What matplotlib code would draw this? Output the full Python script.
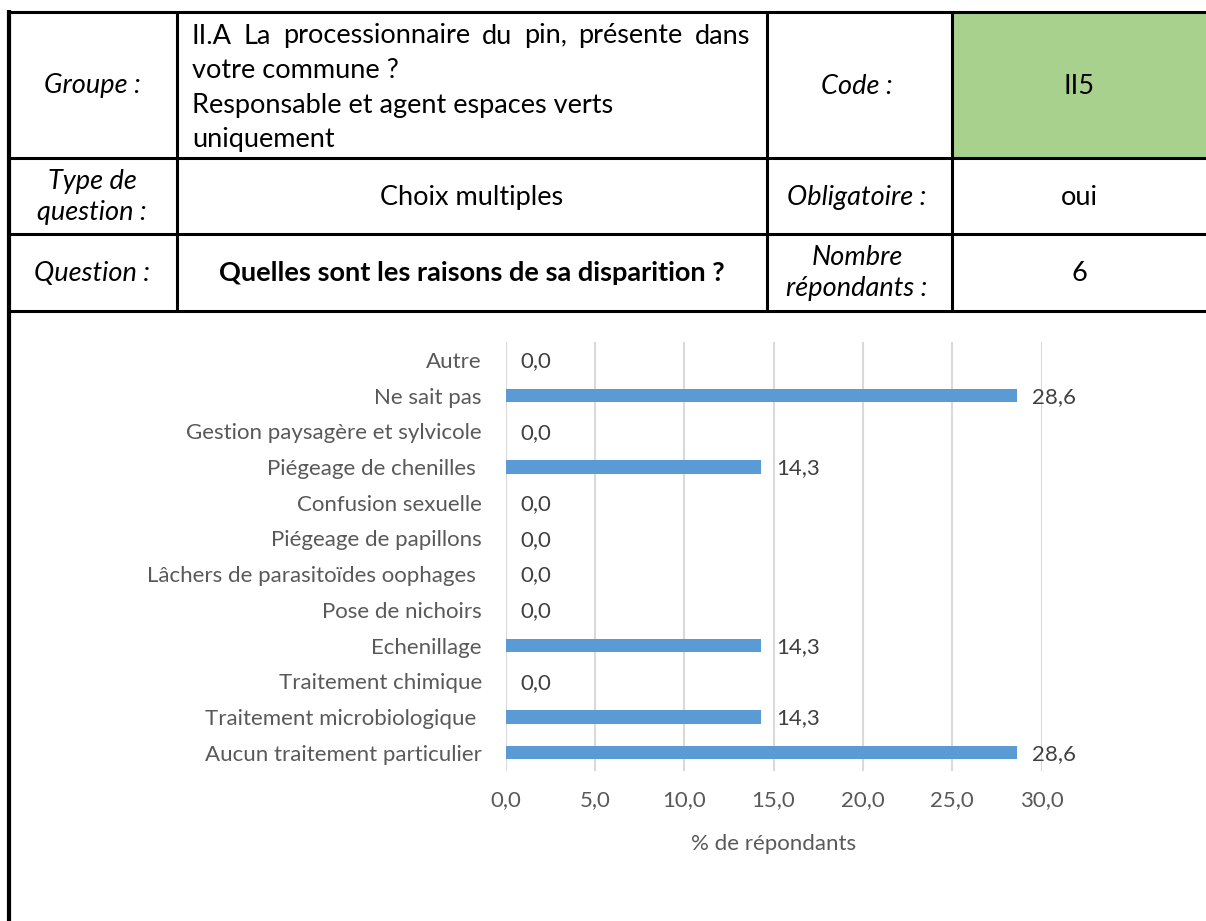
import matplotlib.pyplot as plt

# chart data (top to bottom as in the picture)
categories = ["Autre", "Ne sait pas", "Gestion paysagère et sylvicole",
              "Piégeage de chenilles ", "Confusion sexuelle", "Piégeage de papillons",
              "Lâchers de parasitoïdes oophages ", "Pose de nichoirs", "Echenillage",
              "Traitement chimique", "Traitement microbiologique ",
              "Aucun traitement particulier"]
values = [0.0, 28.6, 0.0, 14.3, 0.0, 0.0, 0.0, 0.0, 14.3, 0.0, 14.3, 28.6]
xticks = [0, 5, 10, 15, 20, 25, 30]

# header table texts
groupe_text = ["II.A La processionnaire du pin, présente dans",
               "votre commune ?",
               "Responsable et agent espaces verts",
               "uniquement"]
code_text = "II5"
type_text = "Choix multiples"
obligatoire_text = "oui"
question_text = "Quelles sont les raisons de sa disparition ?"
nombre_text = "6"

W, H = 1206, 921
plt.rcParams['font.family'] = ['Lato', 'DejaVu Sans']

fig = plt.figure(figsize=(W / 100, H / 100), dpi=100)
renderer = fig.canvas.get_renderer()

# overlay in pixel coordinates for the table
ov = fig.add_axes([0, 0, 1, 1])
ov.set_xlim(0, W)
ov.set_ylim(H, 0)
ov.axis("off")

# green code cell
ov.fill_between([952, W], 12, 158, color="#A9D18E", zorder=0)

lw = 2.2
def hline(y, x0, x1, w=lw):
    ov.plot([x0, x1], [y, y], color="black", lw=w, solid_capstyle="butt")
def vline(x, y0, y1, w=lw):
    ov.plot([x, x], [y0, y1], color="black", lw=w, solid_capstyle="butt")

hline(12, 8, W)
hline(158, 8, W)
hline(234, 8, W)
hline(311, 8, W)
vline(9, 10, H, w=3)
for x in [177, 767, 952]:
    vline(x, 12, 311)

fs_t = 19.5
it = dict(fontsize=fs_t, style="italic", ha="center", va="center", color="black")
nt = dict(fontsize=fs_t, ha="center", va="center", color="black")

ov.text(92, 86, "Groupe :", **it)

# first line is justified across the cell
words = groupe_text[0].split()
widths = []
for w_ in words:
    t = ov.text(0, 0, w_, fontsize=fs_t)
    widths.append(t.get_window_extent(renderer).width)
    t.remove()
left, right = 192, 750
gap = (right - left - sum(widths)) / (len(words) - 1)
xx = left
for w_, wd in zip(words, widths):
    ov.text(xx, 36, w_, fontsize=fs_t, ha="left", va="center")
    xx += wd + gap
for i, line in enumerate(groupe_text[1:], start=1):
    ov.text(192, 36 + i * 34.5, line, fontsize=fs_t, ha="left", va="center")

ov.text(857, 86, "Code :", **it)
ov.text(1079, 86, code_text, **nt)

ov.text(92, 197, "Type de\nquestion :", linespacing=1.3, **it)
ov.text(472, 197, type_text, **nt)
ov.text(857, 197, "Obligatoire :", **it)
ov.text(1079, 197, obligatoire_text, **nt)

ov.text(92, 273, "Question :", **it)
ov.text(472, 273, question_text, fontweight="bold", **nt)
ov.text(857, 273, "Nombre\nrépondants :", linespacing=1.3, **it)
ov.text(1079, 273, nombre_text, **nt)

# bar chart
x0, x1, ytop, ybot = 505.5, 1041.6, 342, 770.5
ax = fig.add_axes([x0 / W, (H - ybot) / H, (x1 - x0) / W, (ybot - ytop) / H])
ypos = list(range(len(categories)))
ax.barh(ypos, values, height=0.37, color="#5B9BD5", zorder=2)
ax.set_xlim(0, 30)
ax.set_ylim(len(categories) - 0.5, -0.5)
ax.set_yticks(ypos)
ax.set_yticklabels(categories)
ax.set_xticks(xticks)
ax.set_xticklabels([f"{t:.1f}".replace(".", ",") for t in xticks])
ax.grid(axis="x", color="#D9D9D9", lw=1.5, zorder=0)
for s in ax.spines.values():
    s.set_visible(False)
ax.tick_params(axis="y", length=0, pad=17, labelsize=16, labelcolor="#595959")
ax.tick_params(axis="x", length=0, pad=14, labelsize=16, labelcolor="#595959")
ax.set_xlabel("% de répondants", fontsize=16, color="#595959", labelpad=17)

for y, v in zip(ypos, values):
    ax.annotate(f"{v:.1f}".replace(".", ","), (v, y), xytext=(11, -1),
                textcoords="offset points", ha="left", va="center",
                fontsize=16, color="#404040")

fig.savefig("out.png", dpi=100)
